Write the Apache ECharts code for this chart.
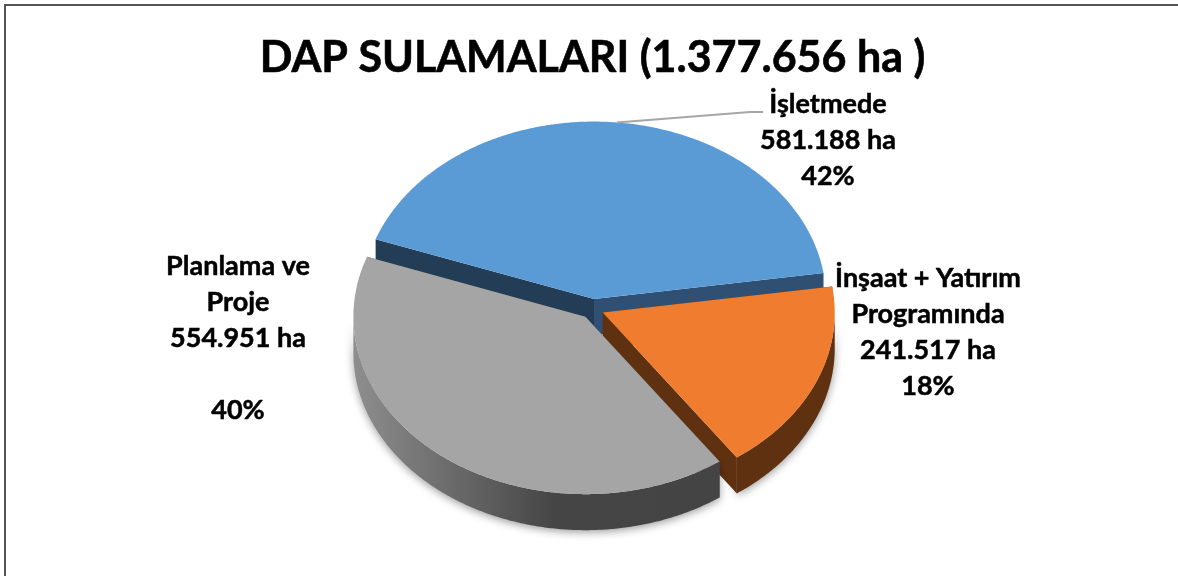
<!DOCTYPE html>
<html>
<head>
<meta charset="utf-8">
<title>DAP Sulamalari</title>
<script src="https://cdn.jsdelivr.net/npm/echarts@6/dist/echarts.min.js"></script>
<style>
html, body { margin: 0; padding: 0; background: #fff; }
#main { width: 1178px; height: 576px; }
</style>
</head>
<body>
<div id="main"></div>
<script>
// chart values
var categories = ['İşletmede', 'İnşaat + Yatırım\nProgramında', 'Planlama ve\nProje'];
var areas = [581188, 241517, 554951];
var areaLabels = ['581.188 ha', '241.517 ha', '554.951 ha'];
var percentLabels = ['42%', '18%', '40%'];

// drawing order here is the data order: blue at the back, grey last
var topColors = ['#5b9bd5', '#f07d2f', '#a5a5a5'];
var leftFaceColors = ['#223d55', '#5f3110', '#444444'];
var rightFaceColors = ['#2f5072', '#5f3110', '#444444'];
var explode = [0.058, 0.047, 0.052];

// fake 3d pie: flattened circle plus a dropped copy for the walls
var cx = 592.7, cy = 309.3, rx = 232, ry = 177.5, depth = 36;
var startAngle = -70.3;
var total = areas.reduce(function (a, b) { return a + b; }, 0);

function sliceAngles(i) {
    var before = 0;
    for (var k = 0; k < i; k++) before += areas[k];
    return [
        startAngle + before / total * 360,
        startAngle + (before + areas[i]) / total * 360
    ];
}

function apexOf(i) {
    var a = sliceAngles(i);
    var mid = (a[0] + a[1]) / 2 * Math.PI / 180;
    return [cx + explode[i] * rx * Math.sin(mid), cy - explode[i] * ry * Math.cos(mid)];
}

function rimPoint(apex, deg, drop) {
    var t = deg * Math.PI / 180;
    return [apex[0] + rx * Math.sin(t), apex[1] - ry * Math.cos(t) + (drop || 0)];
}

function arcPoints(apex, from, to, drop) {
    var pts = [];
    var n = Math.ceil(Math.abs(to - from) * 2);
    for (var k = 0; k <= n; k++) {
        pts.push(rimPoint(apex, from + (to - from) * k / n, drop));
    }
    return pts;
}

function renderSlice(params, api) {
    var i = params.dataIndex;
    var a = sliceAngles(i);
    var apex = apexOf(i);
    var low = [apex[0], apex[1] + depth];
    var p0 = rimPoint(apex, a[0]);
    var p1 = rimPoint(apex, a[1]);
    var children = [];

    // outer wall, only the part turned to the viewer
    var wallFrom = Math.max(a[0], 90), wallTo = Math.min(a[1], 270);
    if (wallTo > wallFrom) {
        var wall = arcPoints(apex, wallFrom, wallTo, 0)
            .concat(arcPoints(apex, wallTo, wallFrom, depth));
        var fill = rightFaceColors[i];
        if (i === 2) {
            // grey side goes from dark at the front to lighter at the left
            var xs = wall.map(function (p) { return p[0]; });
            fill = new echarts.graphic.LinearGradient(
                Math.max.apply(null, xs), 0, Math.min.apply(null, xs), 0,
                [
                    { offset: 0, color: '#444444' },
                    { offset: 0.45, color: '#454545' },
                    { offset: 1, color: '#8e8e8e' }
                ], true);
        }
        children.push({
            type: 'polygon',
            shape: { points: wall },
            style: {
                fill: fill,
                shadowColor: 'rgba(0,0,0,0.4)',
                shadowBlur: 8,
                shadowOffsetY: 2
            }
        });
    }

    // cut faces
    children.push({
        type: 'polygon',
        shape: { points: [apex, p0, [p0[0], p0[1] + depth], low] },
        style: { fill: leftFaceColors[i] }
    });
    children.push({
        type: 'polygon',
        shape: { points: [apex, p1, [p1[0], p1[1] + depth], low] },
        style: { fill: rightFaceColors[i] }
    });

    // top
    children.push({
        type: 'polygon',
        shape: { points: [apex].concat(arcPoints(apex, a[0], a[1], 0)) },
        style: { fill: topColors[i] }
    });

    return { type: 'group', children: children };
}

function labelText(i) {
    var lines = [categories[i], areaLabels[i]];
    if (i === 2) lines.push('');
    lines.push(percentLabels[i]);
    return lines.join('\n');
}

var labelStyle = {
    fontFamily: 'Lato, "Open Sans", sans-serif',
    fontWeight: 'bold',
    fontSize: 27,
    lineHeight: 36,
    fill: '#000',
    stroke: '#000',
    lineWidth: 0.5,
    align: 'center',
    verticalAlign: 'top'
};

function labelEl(i, x, y) {
    return {
        type: 'text',
        x: x,
        y: y,
        z: 5,
        style: Object.assign({ text: labelText(i) }, labelStyle)
    };
}

// leader line from the middle of the blue rim to its label
var blueA = sliceAngles(0);
var leaderStart = rimPoint(apexOf(0), (blueA[0] + blueA[1]) / 2);

var option = {
    animation: false,
    backgroundColor: '#fff',
    title: {
        text: 'DAP SULAMALARI (1.377.656 ha )',
        left: 587.5,
        top: 32,
        textAlign: 'center',
        textStyle: {
            fontFamily: 'Lato, "Open Sans", sans-serif',
            fontWeight: 'bold',
            fontSize: 43,
            color: '#000',
            textBorderColor: '#000',
            textBorderWidth: 0.6
        }
    },
    graphic: [
        // frame only shows on the top and left, the rest is cut off
        {
            type: 'polyline',
            shape: { points: [[5, 580], [5, 5], [1180, 5]] },
            style: { fill: 'none', stroke: '#555', lineWidth: 2 },
            silent: true,
            z: -1
        },
        {
            type: 'polyline',
            shape: { points: [leaderStart, [750, 112], [763, 112]] },
            style: { fill: 'none', stroke: '#a6a6a6', lineWidth: 2 },
            z: 5
        },
        labelEl(0, 828, 86),
        labelEl(1, 928, 260),
        labelEl(2, 238, 248)
    ],
    series: [{
        type: 'custom',
        coordinateSystem: 'none',
        silent: true,
        renderItem: renderSlice,
        data: areas
    }]
};

var chart = echarts.init(document.getElementById('main'), null, { renderer: 'canvas' });
chart.setOption(option);
</script>
</body>
</html>
